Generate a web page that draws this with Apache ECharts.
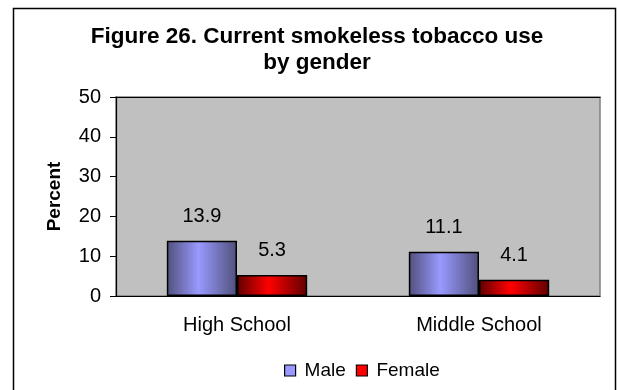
<!DOCTYPE html>
<html>
<head>
<meta charset="utf-8">
<script src="https://cdn.jsdelivr.net/npm/echarts@6/dist/echarts.min.js"></script>
<style>
  html, body { margin: 0; padding: 0; background: #fff; }
  #chart { width: 617px; height: 390px; }
</style>
</head>
<body>
<div id="chart"></div>
<script>
// data
const categories = ['High School', 'Middle School']
const maleValues = [13.9, 11.1]
const femaleValues = [5.3, 4.1]
const yTicks = [0, 10, 20, 30, 40, 50]

const font = 'Liberation Sans, Arial, sans-serif'

// horizontal shading like the old Excel bars
const shade = (edge, mid) => new echarts.graphic.LinearGradient(0, 0, 1, 0, [
    { offset: 0, color: edge },
    { offset: 0.45, color: mid },
    { offset: 1, color: edge }
])

const myChart = echarts.init(document.querySelector('#chart'))
const option = {
    backgroundColor: '#fff',
    animation: false,
    textStyle: { fontFamily: font },
    title: {
        text: 'Figure 26. Current smokeless tobacco use\nby gender',
        left: 312,
        top: 19,
        textAlign: 'center',
        textStyle: {
            fontFamily: font,
            fontSize: 22.5,
            fontWeight: 'bold',
            color: '#000',
            lineHeight: 26
        }
    },
    graphic: [{
        type: 'rect',
        shape: { x: 13.5, y: 8.5, width: 602, height: 400 },
        style: { fill: 'none', stroke: '#000', lineWidth: 1.5 },
        silent: true
    }],
    legend: {
        left: 279,
        top: 356,
        icon: 'rect',
        itemWidth: 11,
        itemHeight: 11,
        itemGap: 10,
        textStyle: { fontFamily: font, fontSize: 19, color: '#000', padding: [0, 0, 0, 4] },
        data: [
            { name: 'Male', itemStyle: { color: '#9999ff', borderColor: '#000', borderWidth: 1.2 } },
            { name: 'Female', itemStyle: { color: '#ff0000', borderColor: '#000', borderWidth: 1.2 } }
        ]
    },
    grid: {
        left: 116,
        right: 17,
        top: 97,
        bottom: 94,
        show: true,
        backgroundColor: '#c0c0c0',
        borderColor: '#808080',
        borderWidth: 1.5
    },
    xAxis: [{
        type: 'category',
        data: categories,
        axisLine: { lineStyle: { color: '#000', width: 1.2 } },
        axisTick: { show: false },
        axisLabel: { fontFamily: font, fontSize: 20, color: '#000', margin: 19 }
    }, {
        type: 'category',
        position: 'top',
        data: categories,
        axisLine: { lineStyle: { color: '#000', width: 1.2 } },
        axisTick: { show: false },
        axisLabel: { show: false }
    }],
    yAxis: {
        type: 'value',
        min: yTicks[0],
        max: yTicks[yTicks.length - 1],
        interval: 10,
        name: 'Percent',
        nameLocation: 'middle',
        nameGap: 52,
        nameTextStyle: { fontFamily: font, fontSize: 19, fontWeight: 'bold', color: '#000' },
        axisLine: { show: true, lineStyle: { color: '#000', width: 1.2 } },
        axisTick: { show: true, inside: false, length: 6, lineStyle: { color: '#000' } },
        axisLabel: { fontFamily: font, fontSize: 20, color: '#000', margin: 15 },
        splitLine: { show: false }
    },
    series: [
        {
            name: 'Male',
            type: 'bar',
            data: maleValues,
            barGap: '0%',
            barCategoryGap: '42%',
            itemStyle: { color: shade('#50507c', '#9999ff'), borderColor: '#000', borderWidth: 1.5 },
            label: {
                show: true,
                position: 'top',
                distance: 14,
                fontFamily: font,
                fontSize: 20,
                color: '#000'
            }
        },
        {
            name: 'Female',
            type: 'bar',
            data: femaleValues,
            itemStyle: { color: shade('#600000', '#ff0000'), borderColor: '#000', borderWidth: 1.5 },
            label: {
                show: true,
                position: 'top',
                distance: 14,
                fontFamily: font,
                fontSize: 20,
                color: '#000'
            }
        }
    ]
}
myChart.setOption(option)
</script>
</body>
</html>
